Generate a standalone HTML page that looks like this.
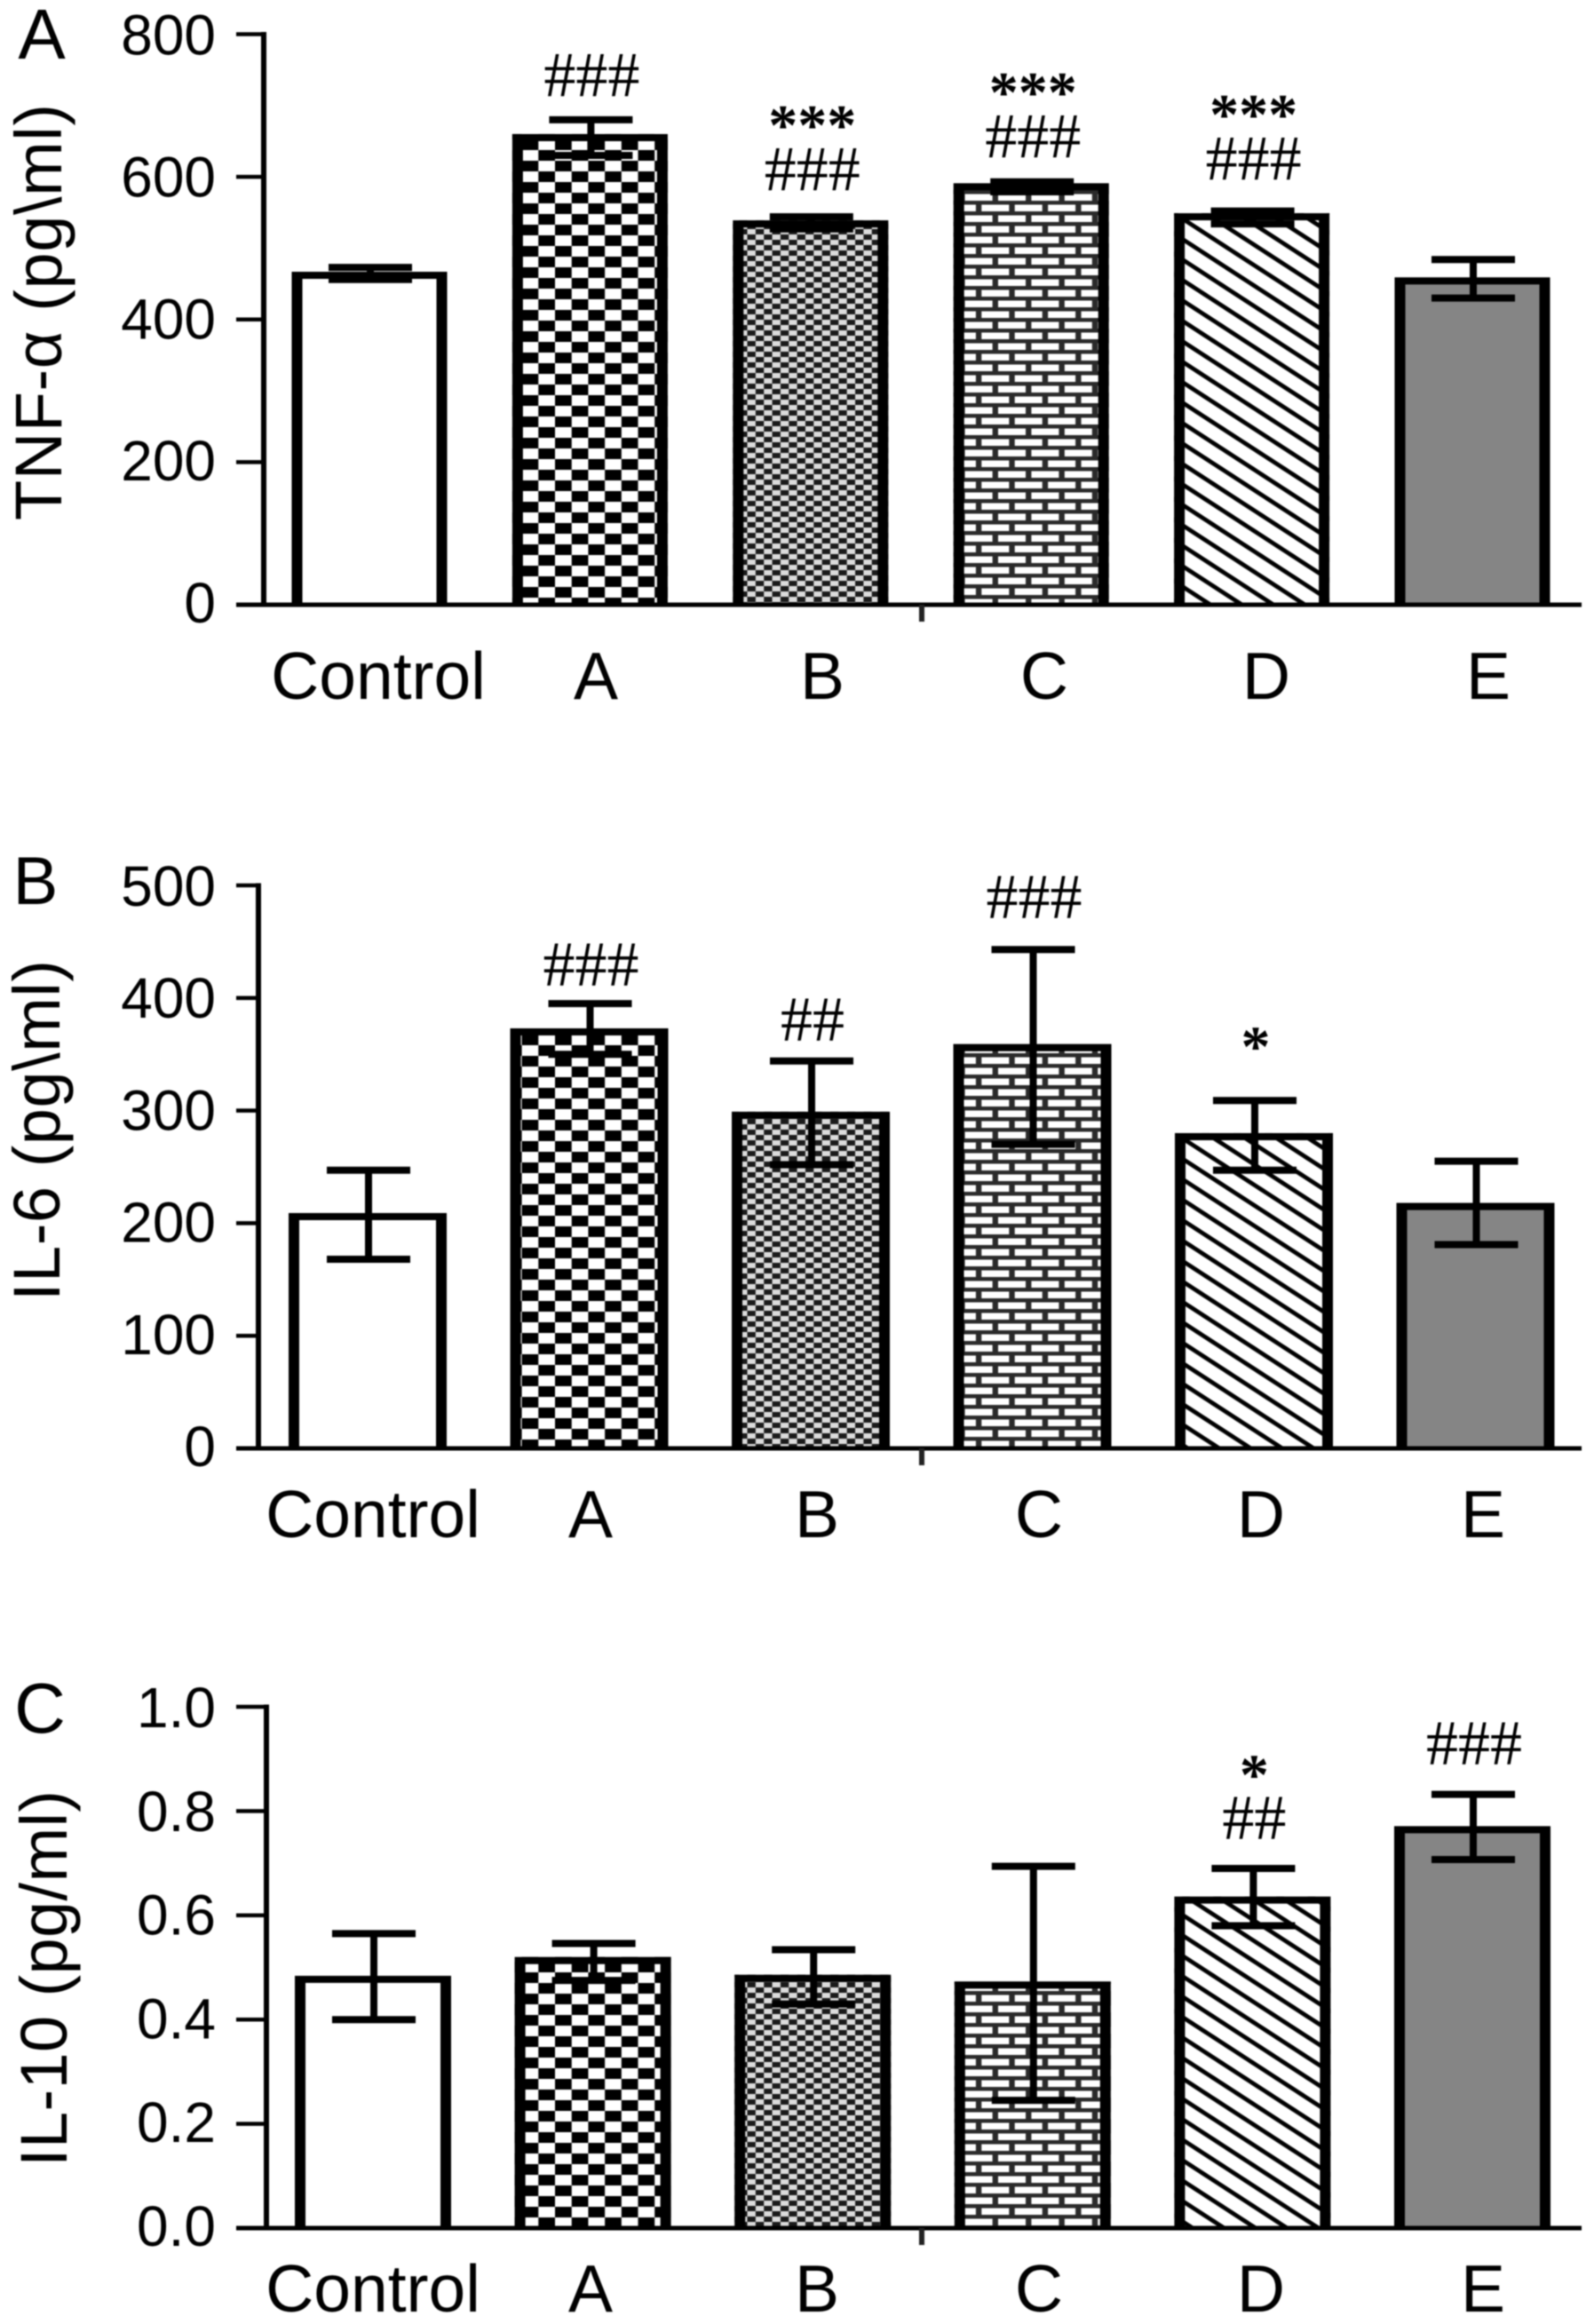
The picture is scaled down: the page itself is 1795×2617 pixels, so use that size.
<!DOCTYPE html>
<html lang="en">
<head>
<meta charset="utf-8">
<title>Cytokine bar charts</title>
<style>
html,body{margin:0;padding:0;background:#fff;}
#figure{display:block;width:1795px;height:2617px;filter:blur(0.9px);}
text{font-family:"Liberation Sans",sans-serif;fill:#000;}
.sig{font-family:"Liberation Serif",serif;}
</style>
</head>
<body>
<svg id="figure" xmlns="http://www.w3.org/2000/svg" width="1795" height="2617" viewBox="0 0 1795 2617">
  <defs>
    <pattern id="pat-checker" patternUnits="userSpaceOnUse" width="37.4" height="24" x="625" y="205">
      <rect width="37.4" height="24" fill="#fff"/>
      <rect x="0" y="0" width="18.7" height="12" fill="#000"/>
      <rect x="18.7" y="12" width="18.7" height="12" fill="#000"/>
    </pattern>
    <pattern id="pat-fine" patternUnits="userSpaceOnUse" width="18.7" height="12">
      <rect width="18.7" height="12" fill="#dcdcdc"/>
      <rect x="0" y="0" width="9.35" height="6" fill="#1a1a1a"/>
      <rect x="9.35" y="6" width="9.35" height="6" fill="#1a1a1a"/>
    </pattern>
    <pattern id="pat-brick" patternUnits="userSpaceOnUse" width="37.4" height="24">
      <rect width="37.4" height="24" fill="#2a2a2a"/>
      <rect x="2" y="2.5" width="31" height="7.5" fill="#fff"/>
      <rect x="20.7" y="14.5" width="16.7" height="7.5" fill="#fff"/>
      <rect x="0" y="14.5" width="14.3" height="7.5" fill="#fff"/>
    </pattern>
    <pattern id="pat-hatch" patternUnits="userSpaceOnUse" width="20" height="19.3" patternTransform="rotate(33)">
      <rect width="20" height="19.3" fill="#fff"/>
      <rect width="20" height="4.8" fill="#000"/>
    </pattern>
  </defs>
  <rect width="1795" height="2617" fill="#fff"/>

  <text x="47" y="66" font-size="80" text-anchor="middle">A</text>
  <text x="40" y="1018" font-size="76" text-anchor="middle">B</text>
  <text x="45" y="1951" font-size="80" text-anchor="middle">C</text>

  <text transform="translate(69,586) rotate(-90)" font-size="74" textLength="469" lengthAdjust="spacing">TNF-α (pg\ml)</text>
  <text transform="translate(67,1465) rotate(-90)" font-size="74" textLength="384" lengthAdjust="spacing">IL-6 (pg\ml)</text>
  <text transform="translate(75,2440) rotate(-90)" font-size="74" textLength="424" lengthAdjust="spacing">IL-10 (pg/ml)</text>

  <g id="panel-tnf"></g>
  <g id="panel-il6"></g>
  <g id="panel-il10"></g>
</svg>

<script>
// ---------- shared categories ----------
const categories = ['Control', 'A', 'B', 'C', 'D', 'E'];
const barFills = ['#fff', 'url(#pat-checker)', 'url(#pat-fine)', 'url(#pat-brick)', 'url(#pat-hatch)', '#858585'];

// ---------- panel A: TNF-alpha ----------
const tnfTicks = [0, 200, 400, 600, 800];
const tnfTickLabels = ['0', '200', '400', '600', '800'];
const tnfValues = [467, 660, 539, 591, 549, 459];
const tnfErrHigh = [473, 680, 544, 593, 552, 484];
const tnfErrLow = [456, 630, 527, 579, 534, 430];
const tnfHashLabels = ['', '###', '###', '###', '###', ''];
const tnfHashLevels = [0, 713, 581, 627, 596, 0];
const tnfStarLabels = ['', '', '***', '***', '***', ''];
const tnfStarLevels = [0, 0, 666, 712, 681, 0];

// ---------- panel B: IL-6 ----------
const il6Ticks = [0, 100, 200, 300, 400, 500];
const il6TickLabels = ['0', '100', '200', '300', '400', '500'];
const il6Values = [209, 373, 299, 359, 280, 218];
const il6ErrHigh = [247, 395, 344, 443, 309, 255];
const il6ErrLow = [168, 350, 252, 270, 247, 181];
const il6HashLabels = ['', '###', '##', '###', '', ''];
const il6HashLevels = [0, 411, 362, 471, 0, 0];
const il6StarLabels = ['', '', '', '', '*', ''];
const il6StarLevels = [0, 0, 0, 0, 353, 0];

// ---------- panel C: IL-10 ----------
const il10Ticks = [0, 0.2, 0.4, 0.6, 0.8, 1.0];
const il10TickLabels = ['0.0', '0.2', '0.4', '0.6', '0.8', '1.0'];
const il10Values = [0.484, 0.52, 0.486, 0.473, 0.636, 0.771];
const il10ErrHigh = [0.565, 0.546, 0.534, 0.694, 0.69, 0.832];
const il10ErrLow = [0.40, 0.475, 0.43, 0.245, 0.58, 0.707];
const il10HashLabels = ['', '', '', '', '##', '###'];
const il10HashLevels = [0, 0, 0, 0, 0.746, 0.889];
const il10StarLabels = ['', '', '', '', '*', ''];
const il10StarLevels = [0, 0, 0, 0, 0.861, 0];

const SVG_NS = 'http://www.w3.org/2000/svg';

function mk(parent, tag, attrs, txt) {
  const el = document.createElementNS(SVG_NS, tag);
  for (const k in attrs) el.setAttribute(k, attrs[k]);
  if (txt !== undefined) el.textContent = txt;
  parent.appendChild(el);
  return el;
}

function drawPanel(cfg) {
  const root = document.getElementById(cfg.id);
  const yScale = v => cfg.y0 - (v / cfg.yMax) * (cfg.y0 - cfg.yTop);
  const bandCenter = i => cfg.barX0 + cfg.barStep * i;
  const labelCenter = i => cfg.labelX0 + 250 * i - (categories[i] === 'A' ? 5 : 0);

  // bars
  categories.forEach((cat, i) => {
    const left = bandCenter(i) - cfg.barW / 2;
    const top = yScale(cfg.values[i]);
    const fill = mk(root, 'rect', {x: left, y: top, width: cfg.barW, height: cfg.y0 - top, fill: barFills[i]});
    
    
    const s = 12, t = 8;
    const r = left + cfg.barW;
    const outline = mk(root, 'path', {
      d: 'M' + left + ' ' + cfg.y0 + 'V' + top + 'H' + r + 'V' + cfg.y0 + 'H' + (r - s) + 'V' + (top + t) + 'H' + (left + s) + 'V' + cfg.y0 + 'Z',
      fill: '#000'
    });
    
    
  });

  // error bars
  categories.forEach((cat, i) => {
    const cx = bandCenter(i) + 1;
    const hi = yScale(cfg.errHigh[i]);
    const lo = yScale(cfg.errLow[i]);
    const capHalf = 47;
    const err = mk(root, 'path', {
      d: 'M' + (cx - capHalf) + ' ' + hi + 'H' + (cx + capHalf) + 'M' + cx + ' ' + hi + 'V' + lo + 'M' + (cx - capHalf) + ' ' + lo + 'H' + (cx + capHalf),
      fill: 'none', stroke: '#000', 'stroke-width': 8
    });
    
    
  });

  // axes
  const yAxis = mk(root, 'rect', {x: cfg.axisX - 3, y: cfg.yTop - 2.5, width: 6, height: cfg.y0 - cfg.yTop + 2.5, fill: '#000'});
  
  
  const xAxis = mk(root, 'rect', {x: 266, y: cfg.y0 - 2.5, width: cfg.xEnd - 266, height: 5, fill: '#000'});
  
  
  const midTick = mk(root, 'rect', {x: 1035, y: cfg.y0, width: 6, height: 19, fill: '#222'});
  
  

  // y ticks + labels
  cfg.ticks.forEach((v, i) => {
    const y = yScale(v);
    const tick = mk(root, 'rect', {x: 266, y: y - 2.25, width: cfg.axisX - 266, height: 4.5, fill: '#000'});
    
    
    const labelDrop = 23 - 3 * (1 - v / cfg.yMax);
    const lab = mk(root, 'text', {x: 243, y: y + labelDrop, 'font-size': 64, 'text-anchor': 'end'}, cfg.tickLabels[i]);
    
    
  });

  // x category labels
  categories.forEach((cat, i) => {
    const lab = mk(root, 'text', {x: labelCenter(i), y: cfg.labelBase, 'font-size': 75, 'text-anchor': 'middle'}, cat);
    
    
  });

  // significance marks
  categories.forEach((cat, i) => {
    const cx = bandCenter(i) + 2;
    if (cfg.hashLabels[i]) {
      const h = mk(root, 'text', {x: cx, y: yScale(cfg.hashLevels[i]), 'font-size': 72, 'text-anchor': 'middle', class: 'sig'}, cfg.hashLabels[i]);
      
      
    }
    if (cfg.starLabels[i]) {
      const st = mk(root, 'text', {x: cx, y: yScale(cfg.starLevels[i]) + 17, 'font-size': 66, 'font-weight': 'bold', 'text-anchor': 'middle', class: 'sig'}, cfg.starLabels[i]);
      
      
    }
  });
}

drawPanel({
  id: 'panel-tnf', axisX: 297, y0: 681, yTop: 38.5, yMax: 800, xEnd: 1781,
  barX0: 416, barStep: 248.4, barW: 175, labelX0: 426, labelBase: 787,
  ticks: tnfTicks, tickLabels: tnfTickLabels, values: tnfValues, errHigh: tnfErrHigh, errLow: tnfErrLow,
  hashLabels: tnfHashLabels, hashLevels: tnfHashLevels, starLabels: tnfStarLabels, starLevels: tnfStarLevels
});
drawPanel({
  id: 'panel-il6', axisX: 291, y0: 1631, yTop: 997, yMax: 500, xEnd: 1781,
  barX0: 414, barStep: 249.5, barW: 178, labelX0: 420, labelBase: 1731,
  ticks: il6Ticks, tickLabels: il6TickLabels, values: il6Values, errHigh: il6ErrHigh, errLow: il6ErrLow,
  hashLabels: il6HashLabels, hashLevels: il6HashLevels, starLabels: il6StarLabels, starLevels: il6StarLevels
});
drawPanel({
  id: 'panel-il10', axisX: 300, y0: 2509, yTop: 1922, yMax: 1, xEnd: 1781,
  barX0: 420, barStep: 247.6, barW: 176, labelX0: 420, labelBase: 2603,
  ticks: il10Ticks, tickLabels: il10TickLabels, values: il10Values, errHigh: il10ErrHigh, errLow: il10ErrLow,
  hashLabels: il10HashLabels, hashLevels: il10HashLevels, starLabels: il10StarLabels, starLevels: il10StarLevels
});
</script>
</body>
</html>
